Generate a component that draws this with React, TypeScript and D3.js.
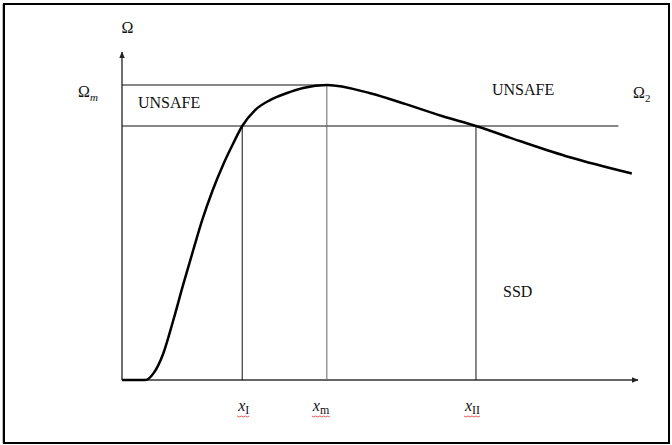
import { useEffect, useRef } from 'react';
import * as d3 from 'd3';

// curve: x in abscissa units, omega relative to Ω_m
const curveX = [0, 0.45, 0.62, 0.8, 0.99, 1.18, 1.38, 1.56, 1.75, 1.96, 2.15, 2.33, 2.58, 2.87, 3.2, 3.51, 3.97, 4.81, 5.5, 6.2, 6.86, 7.71, 8.68, 9.88];
const curveY = [0, 0, 0.025, 0.09, 0.2, 0.32, 0.44, 0.545, 0.64, 0.73, 0.8, 0.861, 0.915, 0.949, 0.973, 0.99, 1.0, 0.972, 0.935, 0.895, 0.861, 0.81, 0.755, 0.7];

const omegaLevels = [1.0, 0.861]; // Ω_m, Ω_2
const markX = [2.33, 3.97, 6.86]; // x_I, x_m, x_II
const markSubs = ['I', 'm', 'II'];

const W = 672;
const H = 445;
const SERIF = '"Liberation Serif", "Times New Roman", serif';

export default function App() {
  const svgRef = useRef<SVGSVGElement>(null);

  useEffect(() => {
    if (!svgRef.current) return;
    const svg = d3.select(svgRef.current);
    svg.selectAll('*').remove();

    const x = d3.scaleLinear().domain([0, 10]).range([122, 638]);
    const y = d3.scaleLinear().domain([0, 1]).range([380, 85]);

    // frame
    svg.append('rect')
      .attr('x', 2).attr('y', 4).attr('width', 3).attr('height', 439)
      .attr('fill', '#bbb');
    svg.append('rect')
      .attr('x', 4).attr('y', 4).attr('width', 665).attr('height', 439)
      .attr('fill', 'none').attr('stroke', '#000').attr('stroke-width', 2);

    const g = svg.append('g');

    // arrow marker
    const defs = svg.append('defs');
    defs.append('marker')
      .attr('id', 'arr')
      .attr('viewBox', '0 0 10 10')
      .attr('refX', 9).attr('refY', 5)
      .attr('markerWidth', 7).attr('markerHeight', 7)
      .attr('markerUnits', 'userSpaceOnUse')
      .attr('orient', 'auto')
      .append('path')
      .attr('d', 'M0,1 L10,5 L0,9 Z')
      .attr('fill', '#222');

    // axes
    g.append('line')
      .attr('x1', x(0)).attr('y1', y(0))
      .attr('x2', x(0)).attr('y2', y(1.112))
      .attr('stroke', '#222').attr('stroke-width', 1.3)
      .attr('marker-end', 'url(#arr)');
    g.append('line')
      .attr('x1', x(0)).attr('y1', y(0))
      .attr('x2', x(10)).attr('y2', y(0))
      .attr('stroke', '#333').attr('stroke-width', 1.5)
      .attr('marker-end', 'url(#arr)');

    // level lines
    g.append('line')
      .attr('x1', x(0)).attr('x2', x(markX[1]))
      .attr('y1', y(omegaLevels[0])).attr('y2', y(omegaLevels[0]))
      .attr('stroke', '#111').attr('stroke-width', 1);
    g.append('line')
      .attr('x1', x(0)).attr('x2', x(9.62))
      .attr('y1', y(omegaLevels[1])).attr('y2', y(omegaLevels[1]))
      .attr('stroke', '#111').attr('stroke-width', 1);

    // vertical markers
    const markTop = [omegaLevels[1], omegaLevels[0], omegaLevels[1]];
    markX.forEach((mx, i) => {
      g.append('line')
        .attr('x1', x(mx)).attr('x2', x(mx))
        .attr('y1', y(markTop[i])).attr('y2', y(0))
        .attr('stroke', i === 1 ? '#666' : '#111')
        .attr('stroke-width', 1);
    });

    // curve
    const pts = curveX.map((v, i) => [v, curveY[i]] as [number, number]);
    const line = d3.line<[number, number]>()
      .x((d) => x(d[0]))
      .y((d) => y(d[1]))
      .curve(d3.curveMonotoneX);
    g.append('path')
      .attr('d', line(pts) as string)
      .attr('fill', 'none')
      .attr('stroke', '#000')
      .attr('stroke-width', 2.5)
      .attr('stroke-linejoin', 'round');

    // texts
    const txt = (tx: number, ty: number, s: string) =>
      g.append('text')
        .attr('x', tx).attr('y', ty)
        .attr('font-family', SERIF)
        .attr('font-size', 16)
        .attr('fill', '#111')
        .text(s);

    txt(x(0) - 0.5, 33, 'Ω');
    txt(138, 108, 'UNSAFE');
    txt(492, 95, 'UNSAFE');
    txt(503, 297, 'SSD');

    const om = txt(78, 97, 'Ω');
    om.append('tspan')
      .attr('dy', 4).attr('font-size', 11).attr('font-style', 'italic')
      .text('m');
    const o2 = txt(633, 98, 'Ω');
    o2.append('tspan')
      .attr('dy', 4).attr('font-size', 11)
      .text('2');

    // x labels with spell-check squiggles
    markX.forEach((mx, i) => {
      const lx = x(mx) - (i === 2 ? 11 : i === 1 ? 14 : 4);
      const t = g.append('text')
        .attr('x', lx).attr('y', 411)
        .attr('font-family', SERIF)
        .attr('font-size', 16)
        .attr('fill', '#111');
      t.append('tspan').attr('font-style', 'italic').text('x');
      t.append('tspan').attr('dy', 3).attr('font-size', 12).text(markSubs[i]);
      const bb = (t.node() as SVGTextElement).getBBox();
      const zig: [number, number][] = d3.range(bb.x, bb.x + bb.width + 0.1, 2)
        .map((zx, k) => [zx, 416 + (k % 2)]);
      g.append('path')
        .attr('d', d3.line()(zig) as string)
        .attr('fill', 'none')
        .attr('stroke', '#e03030')
        .attr('stroke-width', 0.8);
    });
  }, []);

  return (
    <svg
      ref={svgRef}
      width={W}
      height={H}
      style={{ position: 'absolute', left: 0, top: 0, background: '#fff' }}
    />
  );
}
